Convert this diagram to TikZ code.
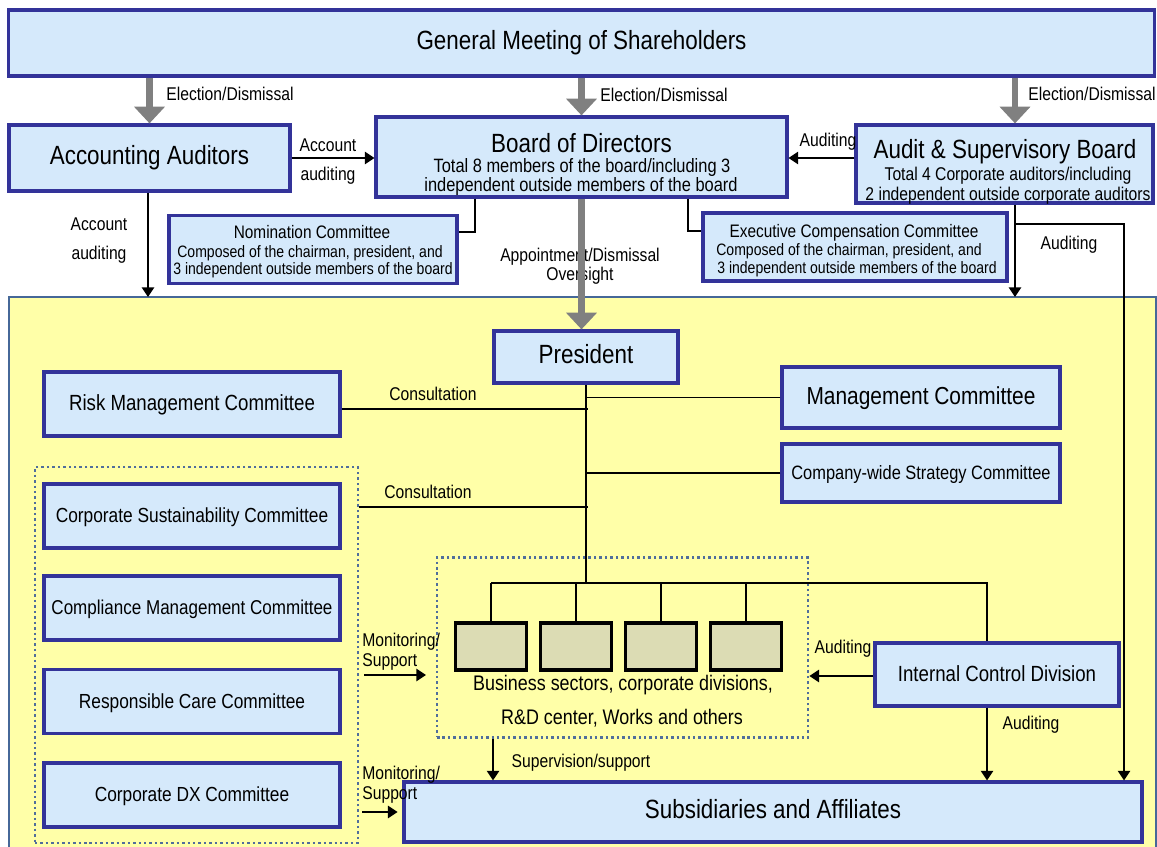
\documentclass[tikz,border=0pt]{standalone}
\usepackage{fontspec}
\setmainfont[FakeStretch=0.85]{Liberation Sans}
\usetikzlibrary{arrows.meta,calc}

\definecolor{boxfill}{RGB}{213,233,251}
\definecolor{boxline}{RGB}{51,51,153}
\definecolor{orgfill}{RGB}{255,255,168}
\definecolor{orgline}{RGB}{70,104,152}
\definecolor{dotline}{RGB}{80,110,155}
\definecolor{unitfill}{RGB}{220,220,180}
\definecolor{arrowgray}{RGB}{128,128,128}

\newcommand{\txtsize}[1]{\fontsize{#1}{#1}\selectfont}

\tikzset{
  box/.style={draw=boxline, fill=boxfill, line width=1.8pt, inner sep=0pt,
    text height=0.85em, text depth=0.1em},
  txt/.style={inner sep=0pt, text height=0.85em, text depth=0.1em},
  unitbox/.style={draw=black, fill=unitfill, line width=1.9pt,
    minimum width=1.42cm, minimum height=0.94cm},
  group/.style={draw=dotline, line width=1.6pt, dash pattern=on 1.4pt off 1.7pt,
    inner sep=0pt},
  wire/.style={draw=black, line width=1.1pt},
  arrow/.style={wire, -{Triangle[width=7pt,length=5.5pt]}},
  bigarrow/.style={draw=arrowgray, line width=3.8pt, -{Triangle[width=17pt,length=9.5pt]}},
}

\begin{document}
\begin{tikzpicture}[x=0.02cm, y=-0.02cm]
    \useasboundingbox (0,0) rectangle (1157,847);

    % executive side
    \draw[orgline, fill=orgfill, line width=1.2pt] (9,297) rectangle (1156,852);
    \coordinate (orgtop) at (0,297);
    \coordinate (asbx) at (1015,0);

    % top level
    \node[box, minimum width=22.94cm, minimum height=1.32cm, font=\txtsize{15}] (gms) at (581.5,43) {General Meeting of Shareholders};
    \node[box, minimum width=5.62cm, minimum height=1.32cm, font=\txtsize{15}] (aa) at (149.5,158) {Accounting Auditors};
    \node[box, minimum width=8.22cm, minimum height=1.6cm] (bod) at (581.5,157) {};
    \node[box, minimum width=5.94cm, minimum height=1.56cm] (asb) at (1004.5,164) {};
    \node[box, minimum width=5.76cm, minimum height=1.36cm] (nomcom) at (313,249.5) {};
    \node[box, minimum width=6.08cm, minimum height=1.36cm] (paycom) at (855,247) {};

    \node[txt, font=\txtsize{15}] (bodtitle) at (581.5,146) {Board of Directors};
    \node[txt, font=\txtsize{11}] (bodline1) at (582,166) {Total 8 members of the board/including 3};
    \node[txt, font=\txtsize{11}] (bodline2) at (581,185) {independent outside members of the board};
    \node[txt, font=\txtsize{15}] (asbtitle) at (1005,152) {Audit \& Supervisory Board};
    \node[txt, font=\txtsize{10.5}] (asbline1) at (1008,174) {Total 4 Corporate auditors/including};
    \node[txt, font=\txtsize{10.5}] (asbline2) at (1008,194) {2 independent outside corporate auditors};
    \node[txt, font=\txtsize{10.3}] (nomtitle) at (312,232) {Nomination Committee};
    \node[txt, font=\txtsize{9.4}] (nomline1) at (310,251) {Composed of the chairman, president, and};
    \node[txt, font=\txtsize{9.4}] (nomline2) at (313,268) {3 independent outside members of the board};
    \node[txt, font=\txtsize{10.3}] (paytitle) at (854,231) {Executive Compensation Committee};
    \node[txt, font=\txtsize{9.4}] (payline1) at (849,249) {Composed of the chairman, president, and};
    \node[txt, font=\txtsize{9.4}] (payline2) at (857,267) {3 independent outside members of the board};

    % President and committees
    \node[box, minimum width=3.68cm, minimum height=1.04cm, font=\txtsize{15}] (pres) at (586,357) {President};
    \node[box, minimum width=5.56cm, minimum height=1.22cm, font=\txtsize{14}] (mgmt) at (921,397.5) {Management Committee};
    \node[box, minimum width=5.56cm, minimum height=1.16cm, font=\txtsize{11}] (strat) at (921,473) {Company-wide Strategy Committee};
    \node[box, minimum width=5.92cm, minimum height=1.28cm, font=\txtsize{12.5}] (risk) at (192,404) {Risk Management Committee};

    \node[group, minimum width=6.46cm, minimum height=7.52cm] (cttees) at (196.5,655) {};
    \node[box, minimum width=5.92cm, minimum height=1.28cm, font=\txtsize{11.6}] (sust) at (192,516) {Corporate Sustainability Committee};
    \node[box, minimum width=5.92cm, minimum height=1.28cm, font=\txtsize{11.4}] (compl) at (192,608) {Compliance Management Committee};
    \node[box, minimum width=5.92cm, minimum height=1.28cm, font=\txtsize{11.6}] (care) at (192,701.5) {Responsible Care Committee};
    \node[box, minimum width=5.92cm, minimum height=1.28cm, font=\txtsize{11.6}] (dx) at (192,795) {Corporate DX Committee};

    % business sectors
    \node[group, minimum width=7.42cm, minimum height=3.6cm] (biz) at (622.5,647.5) {};
    \foreach \i in {1,...,4}
        \node[unitbox] (unit\i) at (406+85*\i,646.5) {};
    \node[txt, font=\txtsize{12}] (biztext1) at (623,684) {Business sectors, corporate divisions,};
    \node[txt, font=\txtsize{12}] (biztext2) at (622,718) {R\&D center, Works and others};

    \node[box, minimum width=4.88cm, minimum height=1.26cm, font=\txtsize{12.5}] (icd) at (997,674.5) {Internal Control Division};
    \node[box, minimum width=14.76cm, minimum height=1.2cm, font=\txtsize{15}] (subs) at (773,812) {Subsidiaries and Affiliates};

    % labels
    \node[txt, font=\txtsize{10.5}] (elect1) at (230,94) {Election/Dismissal};
    \node[txt, font=\txtsize{10.5}] (elect2) at (664,95) {Election/Dismissal};
    \node[txt, font=\txtsize{10.5}] (elect3) at (1092,94) {Election/Dismissal};
    \node[txt, font=\txtsize{10.5}] (accaud1) at (328,145) {Account};
    \node[txt, font=\txtsize{10.5}] (accaud2) at (328,174) {auditing};
    \node[txt, font=\txtsize{10.5}] (audit1) at (828,140) {Auditing};
    \node[txt, font=\txtsize{10.5}] (accdown1) at (99,224) {Account};
    \node[txt, font=\txtsize{10.5}] (accdown2) at (99,253) {auditing};
    \node[txt, font=\txtsize{10.5}] (audit2) at (1069,243) {Auditing};
    \node[txt, font=\txtsize{10.5}] (appoint1) at (580,255) {Appointment/Dismissal};
    \node[txt, font=\txtsize{10.5}] (appoint2) at (580,274) {Oversight};
    \node[txt, font=\txtsize{10.5}] (consult1) at (433,394) {Consultation};
    \node[txt, font=\txtsize{10.5}] (consult2) at (428,492) {Consultation};
    \node[txt, font=\txtsize{10.5}, anchor=west] (monitor1) at (362,640) {Monitoring/};
    \node[txt, font=\txtsize{10.5}, anchor=west] (support1) at (362,660) {Support};
    \node[txt, font=\txtsize{10.5}, anchor=west] (monitor2) at (362,773) {Monitoring/};
    \node[txt, font=\txtsize{10.5}, anchor=west] (support2) at (362,793) {Support};
    \node[txt, font=\txtsize{10.5}] (audit3) at (843,647) {Auditing};
    \node[txt, font=\txtsize{10.5}] (audit4) at (1031,723) {Auditing};
    \node[txt, font=\txtsize{10.5}] (supervise) at (581,761) {Supervision/support};

    % gray arrows
    \draw[bigarrow] (aa.north |- gms.south) -- (aa.north);
    \draw[bigarrow] (bod.north |- gms.south) -- (bod.north);
    \draw[bigarrow] (asbx |- gms.south) -- (asbx |- asb.north);
    \draw[bigarrow] (bod.south) -- (bod.south |- pres.north);

    % auditing around the board
    \draw[arrow] (aa.east) -- (bod.west |- aa.east);
    \draw[arrow] (asb.west |- aa.east) -- (bod.east |- aa.east);
    \draw[arrow] (aa.south -| 148,0) -- (148,0 |- orgtop);
    \draw[arrow] (asbx |- asb.south) -- (asbx |- orgtop);
    \draw[arrow] (asbx |- 0,224) -| (subs.north -| 1124,0);
    \draw[wire] (bod.south -| 475,0) |- ($(nomcom.north east)!0.25!(nomcom.south east)$);
    \draw[wire] (bod.south -| 688,0) |- ($(paycom.north west)!0.28!(paycom.south west)$);

    % president tree
    \coordinate (bus) at (pres.south |- 0,583);
    \draw[wire] (pres.south) -- (bus);
    \draw[wire] (mgmt.west) -- (mgmt.west -| pres.south);
    \draw[wire] (strat.west) -- (strat.west -| pres.south);
    \draw[wire] ($(risk.east)+(0,5)$) -- ($(risk.east -| pres.south)+(2,5)$);
    \draw[wire] ($(cttees.east |- sust.east)+(0,-9)$) -- ($(sust.east -| pres.south)+(2,-9)$);
    \draw[wire] (unit1.north |- bus) -| (icd.north -| 987,0);
    \foreach \i in {1,...,4}
        \draw[wire] (unit\i.north) -- (unit\i.north |- bus);

    % monitoring and auditing below
    \draw[arrow, shorten <=2.8pt, shorten >=5.5pt] (cttees.east |- 0,675) -- (biz.west |- 0,675);
    \draw[arrow, shorten <=1.5pt, shorten >=2.8pt] (cttees.east |- subs.west) -- (subs.west);
    \draw[arrow] (icd.west |- 0,676) -- (biz.east |- 0,676);
    \draw[arrow] (icd.south -| 987,0) -- (subs.north -| 987,0);
    \draw[arrow] (biz.south -| 493,0) -- (subs.north -| 493,0);
\end{tikzpicture}
\end{document}
